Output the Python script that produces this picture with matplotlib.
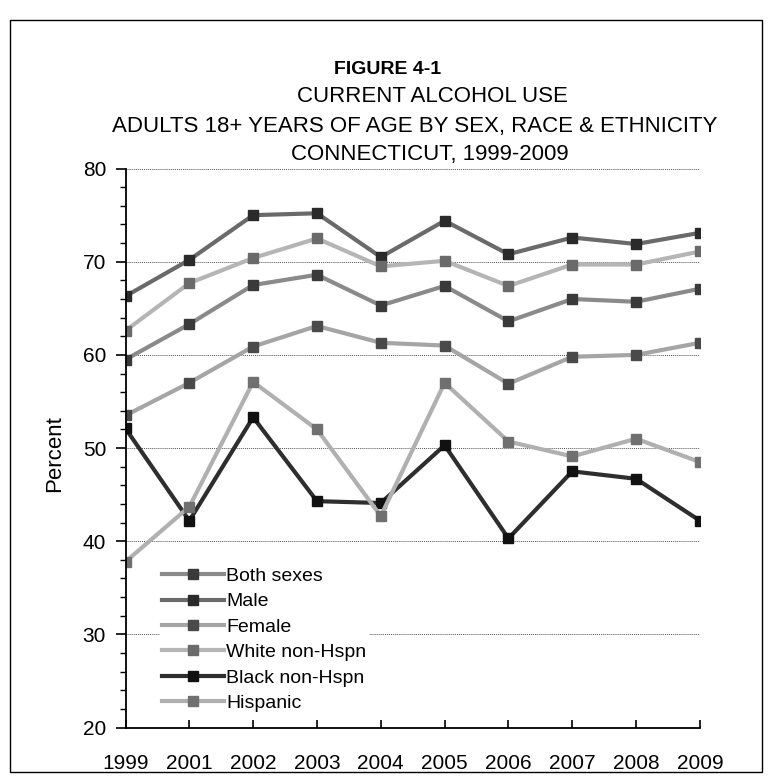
import matplotlib

matplotlib.use("Agg")
import matplotlib.pyplot as plt
from matplotlib.patches import Rectangle
from matplotlib.ticker import MultipleLocator

plt.rcParams["font.family"] = ["Liberation Sans", "DejaVu Sans"]

# Valores (percentual)
years = ["1999", "2001", "2002", "2003", "2004", "2005", "2006", "2007", "2008", "2009"]
both_sexes = [59.5, 63.3, 67.5, 68.6, 65.3, 67.4, 63.6, 66.0, 65.7, 67.1]
male = [66.3, 70.2, 75.0, 75.2, 70.5, 74.4, 70.8, 72.6, 71.9, 73.1]
female = [53.5, 57.0, 60.9, 63.1, 61.3, 61.0, 56.9, 59.8, 60.0, 61.3]
white = [62.6, 67.7, 70.4, 72.5, 69.5, 70.1, 67.4, 69.7, 69.7, 71.1]
black = [52.1, 42.2, 53.3, 44.3, 44.1, 50.3, 40.3, 47.5, 46.7, 42.2]
hispanic = [37.8, 43.7, 57.1, 52.0, 42.7, 57.0, 50.7, 49.1, 51.0, 48.5]

series = [
    ("Both sexes", both_sexes, "#8a8a8a", "#3a3a3a"),
    ("Male", male, "#6a6a6a", "#2a2a2a"),
    ("Female", female, "#a5a5a5", "#4a4a4a"),
    ("White non-Hspn", white, "#b5b5b5", "#6a6a6a"),
    ("Black non-Hspn", black, "#2e2e2e", "#111111"),
    ("Hispanic", hispanic, "#b0b0b0", "#707070"),
]

fig = plt.figure(figsize=(7.7, 7.84), dpi=100)
ax = fig.add_axes([0.163, 0.072, 0.746, 0.713])

x = list(range(len(years)))
for name, vals, col, mcol in series:
    ax.plot(x, vals, color=col, linewidth=3, marker="s", markersize=7,
            markerfacecolor=mcol, markeredgecolor=mcol, label=name)

ax.set_xlim(0, len(years) - 1)
ax.set_ylim(20, 80)
ax.set_xticks(x)
ax.set_xticklabels(years, fontsize=15)
ax.yaxis.set_major_locator(MultipleLocator(10))
ax.yaxis.set_minor_locator(MultipleLocator(2))
ax.tick_params(axis="y", labelsize=15, length=7, width=1.2, direction="out", pad=7)
ax.tick_params(axis="y", which="minor", length=4, width=1, direction="out")
ax.tick_params(axis="x", length=6, width=1.2, direction="in", pad=19)
ax.set_ylabel("Percent", fontsize=16)
ax.yaxis.set_label_coords(-0.105, 0.49)

for s in ["top", "right"]:
    ax.spines[s].set_visible(False)
ax.spines["left"].set_linewidth(1.3)
ax.spines["bottom"].set_linewidth(1.3)
ax.yaxis.grid(True, linestyle=(0, (1, 1)), color="#555555", linewidth=0.7)
ax.set_axisbelow(True)

leg = ax.legend(loc="upper left", bbox_to_anchor=(0.06, 0.29), fontsize=14,
                frameon=True, edgecolor="white", framealpha=1, fancybox=False,
                handlelength=3.2, handletextpad=0.1, labelspacing=0.4,
                borderpad=0.1, borderaxespad=0)
leg.set_zorder(5)

fig.text(0.503, 0.905, "FIGURE 4-1", ha="center", fontsize=14, fontweight="bold")
fig.text(0.562, 0.87, "CURRENT ALCOHOL USE", ha="center", fontsize=16)
fig.text(0.538, 0.832, "ADULTS 18+ YEARS OF AGE BY SEX, RACE & ETHNICITY",
         ha="center", fontsize=16)
fig.text(0.558, 0.796, "CONNECTICUT, 1999-2009", ha="center", fontsize=16)

fig.add_artist(Rectangle((0.013, 0.015), 0.977, 0.96, transform=fig.transFigure,
                         fill=False, edgecolor="black", linewidth=1))

fig.savefig("out.png", dpi=100)
